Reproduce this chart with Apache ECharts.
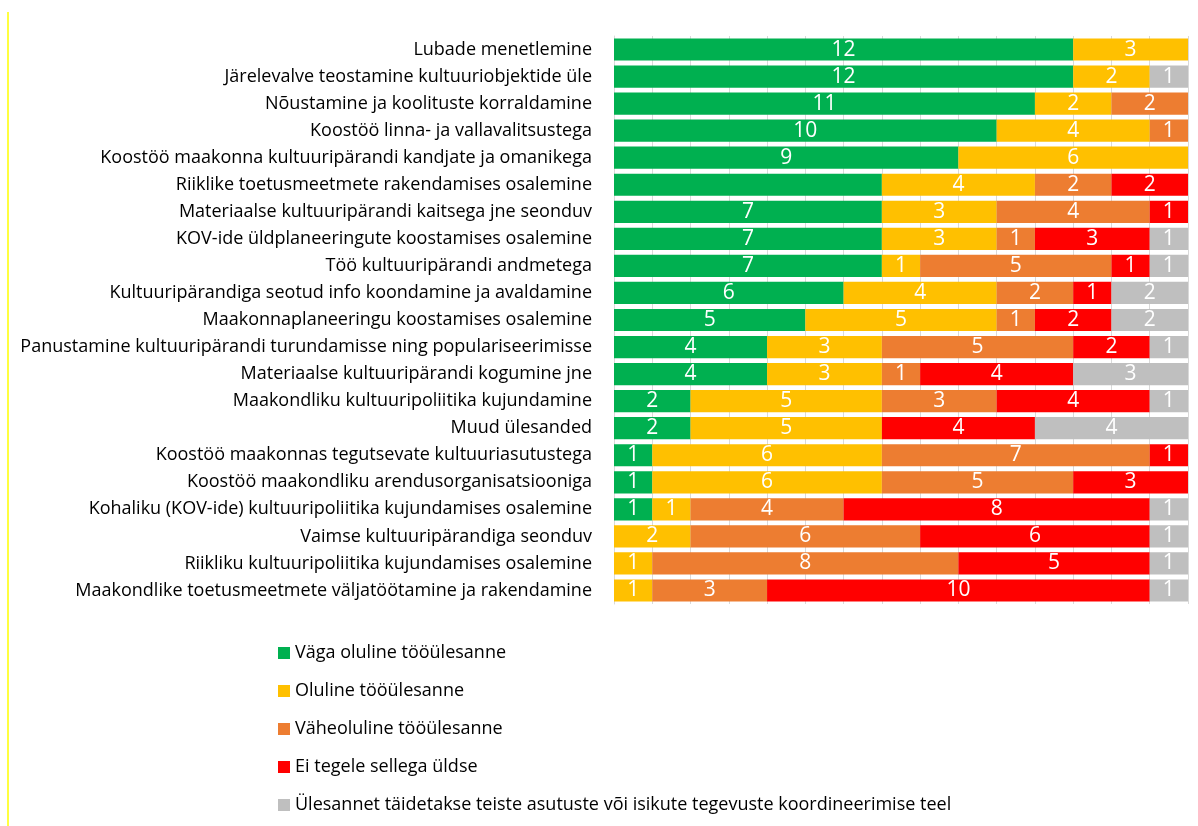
<!DOCTYPE html>
<html>
<head>
<meta charset="utf-8">
<script src="https://cdn.jsdelivr.net/npm/echarts@6/dist/echarts.min.js"></script>
<style>
  html, body { margin: 0; padding: 0; background: #fff; }
  #chart { width: 1198px; height: 826px; }
</style>
</head>
<body>
<div id="chart"></div>
<script>
const categories = [
  'Lubade menetlemine',
  'Järelevalve teostamine kultuuriobjektide üle',
  'Nõustamine ja koolituste korraldamine',
  'Koostöö linna- ja vallavalitsustega',
  'Koostöö maakonna kultuuripärandi kandjate ja omanikega',
  'Riiklike toetusmeetmete rakendamises osalemine',
  'Materiaalse kultuuripärandi kaitsega jne seonduv',
  'KOV-ide üldplaneeringute koostamises osalemine',
  'Töö kultuuripärandi andmetega',
  'Kultuuripärandiga seotud info koondamine ja avaldamine',
  'Maakonnaplaneeringu koostamises osalemine',
  'Panustamine kultuuripärandi turundamisse ning populariseerimisse',
  'Materiaalse kultuuripärandi kogumine jne',
  'Maakondliku kultuuripoliitika kujundamine',
  'Muud ülesanded',
  'Koostöö maakonnas tegutsevate kultuuriasutustega',
  'Koostöö maakondliku arendusorganisatsiooniga',
  'Kohaliku (KOV-ide) kultuuripoliitika kujundamises osalemine',
  'Vaimse kultuuripärandiga seonduv',
  'Riikliku kultuuripoliitika kujundamises osalemine',
  'Maakondlike toetusmeetmete väljatöötamine ja rakendamine'
]

const seriesNames = [
  'Väga oluline tööülesanne',
  'Oluline tööülesanne',
  'Väheoluline tööülesanne',
  'Ei tegele sellega üldse',
  'Ülesannet täidetakse teiste asutuste või isikute tegevuste koordineerimise teel'
]

const colors = ['#00B050', '#FFC000', '#ED7D31', '#FF0000', '#BFBFBF']

const vagaOluline = [12, 12, 11, 10, 9, 7, 7, 7, 7, 6, 5, 4, 4, 2, 2, 1, 1, 1, 0, 0, 0]
const oluline = [3, 2, 2, 4, 6, 4, 3, 3, 1, 4, 5, 3, 3, 5, 5, 6, 6, 1, 2, 1, 1]
const vaheoluline = [0, 0, 2, 1, 0, 2, 4, 1, 5, 2, 1, 5, 1, 3, 0, 7, 5, 4, 6, 8, 3]
const eiTegele = [0, 0, 0, 0, 0, 2, 1, 3, 1, 1, 2, 2, 4, 4, 4, 1, 3, 8, 6, 5, 10]
const koordineerimine = [0, 1, 0, 0, 0, 0, 0, 1, 1, 2, 2, 1, 3, 1, 4, 0, 0, 1, 1, 1, 1]

// label for this bar is missing in the original
const hiddenLabels = [[0, 5]]

const allData = [vagaOluline, oluline, vaheoluline, eiTegele, koordineerimine]

const chart = echarts.init(document.getElementById('chart'))

const series = allData.map((values, si) => ({
  name: seriesNames[si],
  type: 'bar',
  stack: 'total',
  barCategoryGap: '18%',
  itemStyle: { color: colors[si] },
  label: {
    show: true,
    position: 'inside',
    color: '#fff',
    fontSize: 21,
    fontFamily: 'Open Sans',
    formatter: (p) => (p.value > 0 ? p.value : '')
  },
  data: values.map((v, i) => {
    const hide = hiddenLabels.some((h) => h[0] === si && h[1] === i)
    return hide ? { value: v, label: { show: false } } : v
  })
}))

chart.setOption({
  backgroundColor: '#fff',
  animation: false,
  textStyle: { fontFamily: 'Open Sans' },
  grid: {
    left: 614,
    right: 10,
    top: 36,
    bottom: 222
  },
  legend: {
    orient: 'vertical',
    left: 273,
    top: 639,
    itemWidth: 12,
    itemHeight: 12,
    itemGap: 20,
    icon: 'rect',
    textStyle: { fontSize: 18, color: '#000', fontFamily: 'Open Sans' },
    data: seriesNames
  },
  xAxis: {
    type: 'value',
    min: 0,
    max: 15,
    interval: 1,
    axisLabel: { show: false },
    axisLine: { show: false },
    axisTick: { show: false },
    splitLine: { show: true, lineStyle: { color: '#d9d9d9', width: 1 } }
  },
  yAxis: {
    type: 'category',
    inverse: true,
    data: categories,
    axisLine: { show: true, lineStyle: { color: '#d9d9d9' } },
    axisTick: { show: false },
    axisLabel: {
      color: '#000',
      fontSize: 18,
      margin: 22,
      fontFamily: 'Open Sans'
    }
  },
  graphic: [
    {
      type: 'line',
      shape: { x1: 8, y1: 12, x2: 8, y2: 826 },
      style: { stroke: '#FFFF00', lineWidth: 1.5 }
    }
  ],
  series: series
})
</script>
</body>
</html>
